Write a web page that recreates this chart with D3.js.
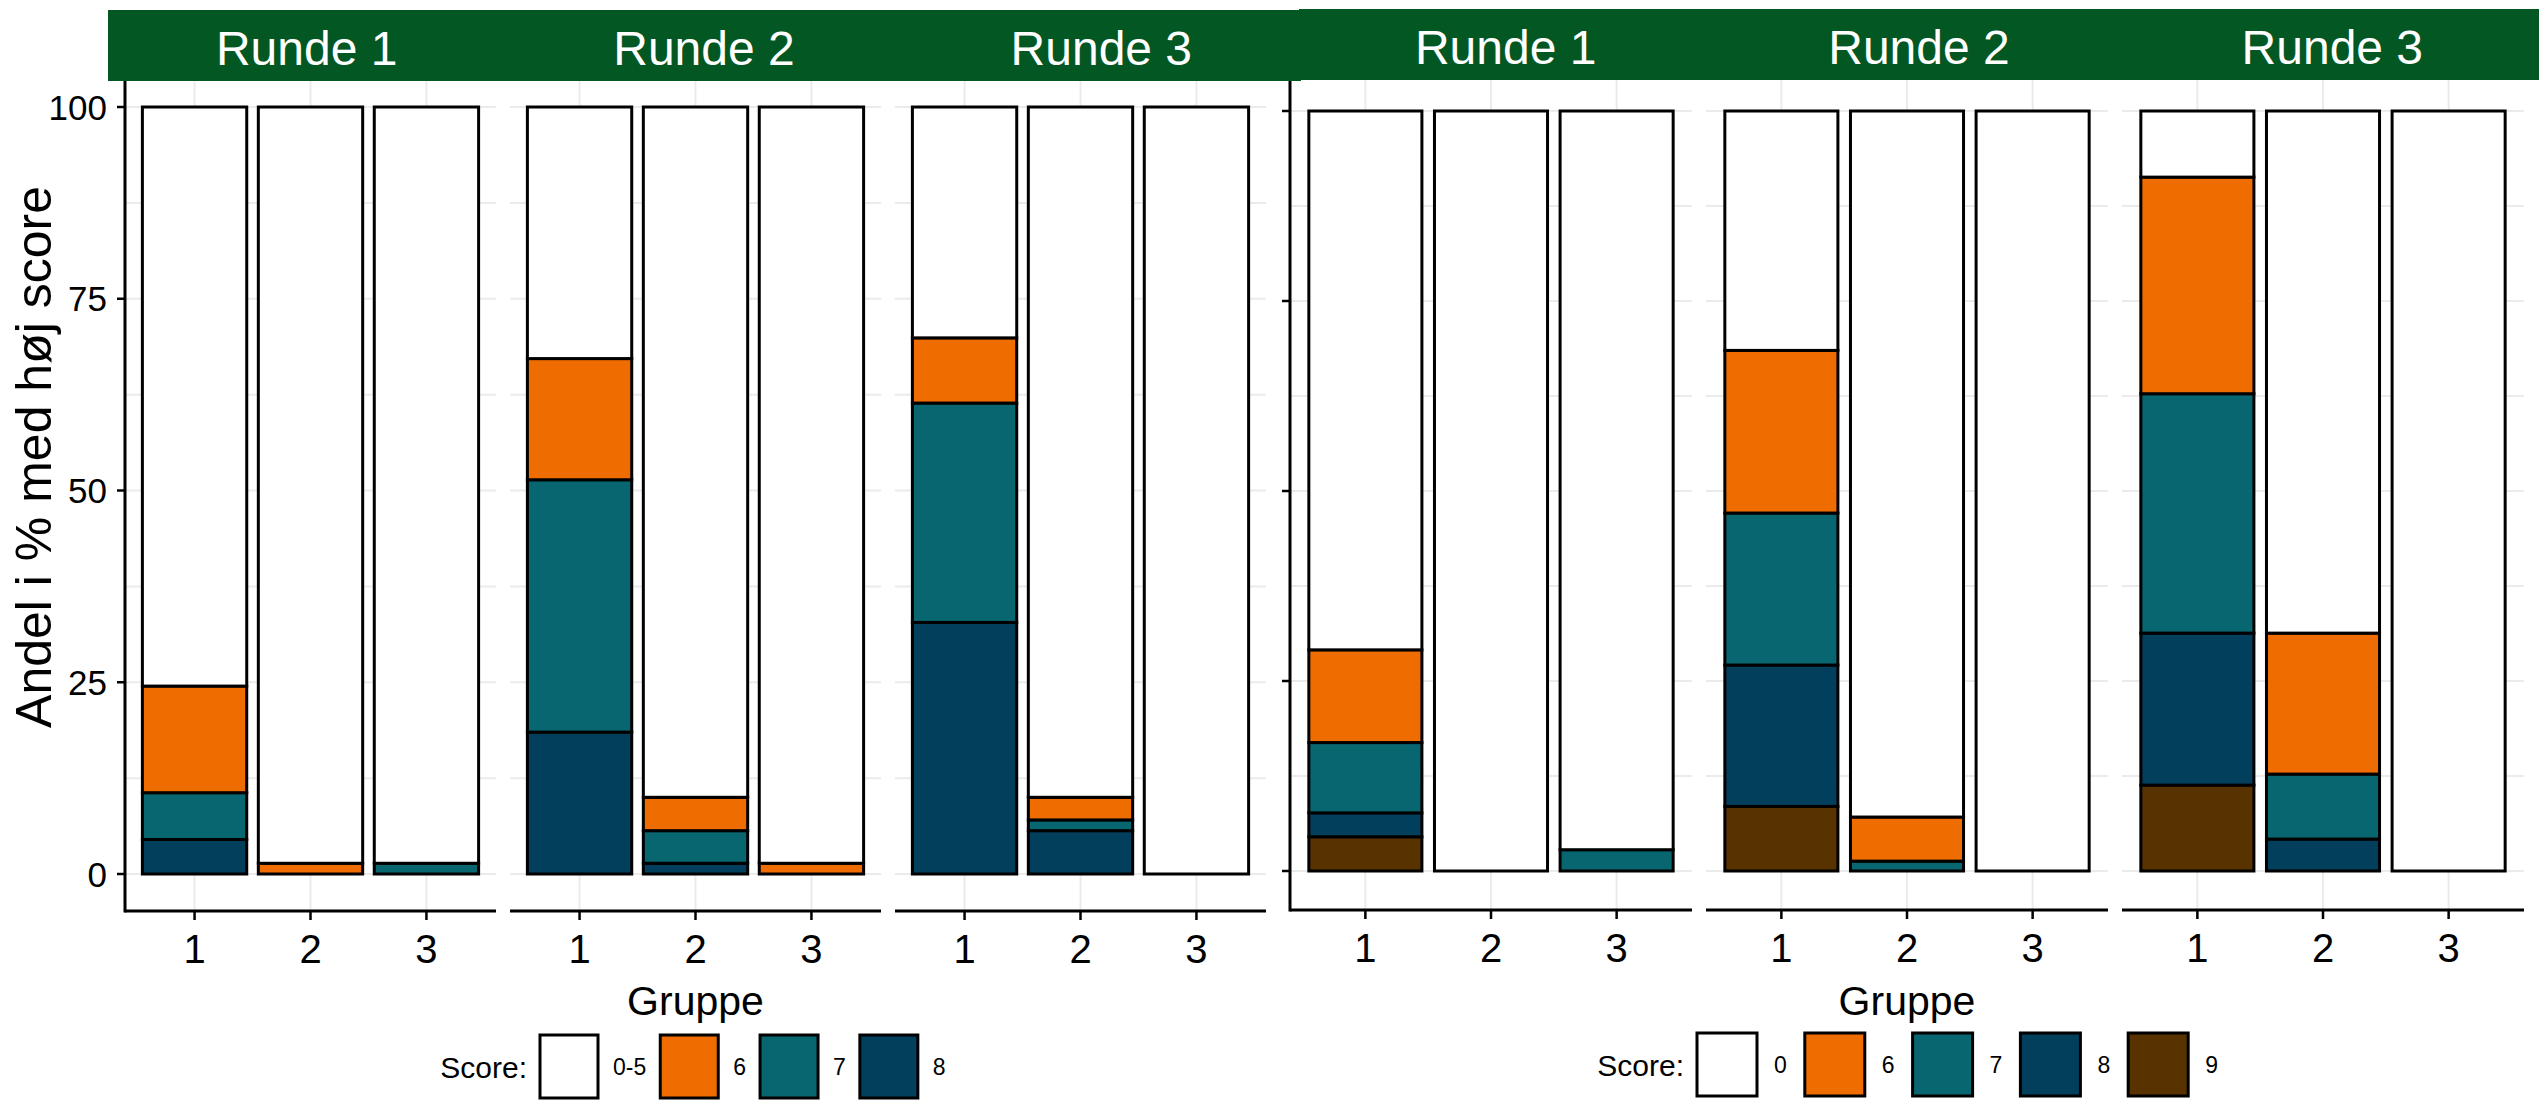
<!DOCTYPE html>
<html>
<head>
<meta charset="utf-8">
<style>
  body { margin: 0; background: #fff; }
  svg { display: block; font-family: "Liberation Sans", Arial, sans-serif; }
  .grid line { stroke: #ebebeb; stroke-width: 2; }
  .seg { stroke: #000; stroke-width: 3; }
  .axis-line { stroke: #000; stroke-width: 3; }
  .tick { stroke: #000; stroke-width: 2.5; }
</style>
<script src="https://cdn.jsdelivr.net/npm/d3@7"></script>
</head>
<body>
<svg id="chart" width="2539" height="1101"></svg>
<script>
var runder = ["Runde 1", "Runde 2", "Runde 3"];
var grupper = ["1", "2", "3"];
var yTicks = [0, 25, 50, 75, 100];
var yMinor = [12.5, 37.5, 62.5, 87.5];

// venstre figur, score 0-5 / 6 / 7 / 8
// rækkefølge: Runde 1 gr 1-3, Runde 2 gr 1-3, Runde 3 gr 1-3
var scoresA = ["0-5", "6", "7", "8"];
var a05 = [75.5, 98.6, 98.6, 32.8, 90.0, 98.6, 30.1, 90.0, 100];
var a6  = [13.9, 1.4, 0, 15.8, 4.35, 1.4, 8.5, 2.95, 0];
var a7  = [6.1, 0, 1.4, 32.9, 4.25, 0, 28.6, 1.4, 0];
var a8  = [4.5, 0, 0, 18.5, 1.4, 0, 32.8, 5.65, 0];

// hoejre figur, score 0 / 6 / 7 / 8 / 9
var scoresB = ["0", "6", "7", "8", "9"];
var b0 = [70.9, 100, 97.2, 31.5, 92.9, 100, 8.7, 68.7, 100];
var b6 = [12.2, 0, 0, 21.4, 5.8, 0, 28.5, 18.55, 0];
var b7 = [9.25, 0, 2.8, 20.0, 1.3, 0, 31.5, 8.55, 0];
var b8 = [3.15, 0, 0, 18.6, 0, 0, 20.0, 4.2, 0];
var b9 = [4.5, 0, 0, 8.5, 0, 0, 11.3, 0, 0];

var fills = {"0-5": "#ffffff", "0": "#ffffff", "6": "#ee6c00", "7": "#086670", "8": "#013f5d", "9": "#583300"};
var stripColor = "#035723";

function makeRows(scores, series) {
  var rows = [];
  runder.forEach(function(r, i) {
    grupper.forEach(function(g, j) {
      var row = {runde: r, gruppe: g};
      scores.forEach(function(s, k) { row[s] = series[k][i * 3 + j]; });
      rows.push(row);
    });
  });
  return rows;
}

var svg = d3.select("#chart");

function drawFigure(cfg) {
  var root = svg.append("g");
  var rows = makeRows(cfg.scores, cfg.series);

  var panel = d3.scaleBand().domain(runder).range(cfg.panelX)
    .paddingInner(cfg.gap / ((cfg.panelX[1] - cfg.panelX[0] + cfg.gap) / 3));
  var x = d3.scaleBand().domain(grupper).range([0, panel.bandwidth()])
    .paddingInner(0.1).paddingOuter(0.15);
  var y = d3.scaleLinear().domain([0, 100]).range([cfg.y0, cfg.y100]);

  // stak: hoejeste score nederst
  var keys = cfg.scores.slice().reverse();
  var stacked = d3.stack().keys(keys)(rows);

  // strips
  var strip = d3.scaleBand().domain(runder).range(cfg.stripX);
  root.selectAll(".strip").data(runder).enter().append("rect")
    .attr("x", function(d) { return strip(d); })
    .attr("y", cfg.stripY[0])
    .attr("width", strip.bandwidth() + 1)
    .attr("height", cfg.stripY[1] - cfg.stripY[0])
    .attr("fill", stripColor);
  root.selectAll(".strip-text").data(runder).enter().append("text")
    .attr("x", function(d) { return strip(d) + strip.bandwidth() / 2; })
    .attr("y", cfg.stripY[0] + 55)
    .attr("text-anchor", "middle")
    .attr("fill", "#fff")
    .attr("font-size", 48)
    .text(function(d) { return d; });

  runder.forEach(function(r) {
    var g = root.append("g").attr("transform", "translate(" + panel(r) + ",0)");
    var w = panel.bandwidth();

    var grid = g.append("g").attr("class", "grid");
    grid.selectAll(".hy").data(yTicks.concat(yMinor)).enter().append("line")
      .attr("x1", 0).attr("x2", w)
      .attr("y1", function(d) { return y(d); }).attr("y2", function(d) { return y(d); });
    grid.selectAll(".vx").data(grupper).enter().append("line")
      .attr("x1", function(d) { return x(d) + x.bandwidth() / 2; })
      .attr("x2", function(d) { return x(d) + x.bandwidth() / 2; })
      .attr("y1", cfg.panelTop).attr("y2", cfg.axisY);

    stacked.forEach(function(layer) {
      g.selectAll(null)
        .data(layer.filter(function(d) { return d.data.runde === r && d[1] - d[0] > 0; }))
        .enter().append("rect")
        .attr("class", "seg")
        .attr("x", function(d) { return x(d.data.gruppe); })
        .attr("width", x.bandwidth())
        .attr("y", function(d) { return y(d[1]); })
        .attr("height", function(d) { return y(d[0]) - y(d[1]); })
        .attr("fill", fills[layer.key]);
    });

    // x-akse
    g.append("line").attr("class", "axis-line")
      .attr("x1", 0).attr("x2", w).attr("y1", cfg.axisY).attr("y2", cfg.axisY);
    g.selectAll(".xt").data(grupper).enter().append("line").attr("class", "tick")
      .attr("x1", function(d) { return x(d) + x.bandwidth() / 2; })
      .attr("x2", function(d) { return x(d) + x.bandwidth() / 2; })
      .attr("y1", cfg.axisY).attr("y2", cfg.axisY + 9);
    g.selectAll(".xl").data(grupper).enter().append("text")
      .attr("x", function(d) { return x(d) + x.bandwidth() / 2; })
      .attr("y", cfg.axisY + 52)
      .attr("text-anchor", "middle")
      .attr("font-size", 40)
      .text(function(d) { return d; });
  });

  // y-akse
  var x0 = cfg.panelX[0];
  root.append("line").attr("class", "axis-line")
    .attr("x1", x0).attr("x2", x0).attr("y1", cfg.panelTop).attr("y2", cfg.axisY + 1.5);
  root.selectAll(".yt").data(yTicks).enter().append("line").attr("class", "tick")
    .attr("x1", x0 - 8).attr("x2", x0)
    .attr("y1", function(d) { return y(d); }).attr("y2", function(d) { return y(d); });
  if (cfg.yLabels) {
    root.selectAll(".yl").data(yTicks).enter().append("text")
      .attr("x", x0 - 18)
      .attr("y", function(d) { return y(d); })
      .attr("dy", "0.36em")
      .attr("text-anchor", "end")
      .attr("font-size", 35)
      .text(function(d) { return d; });
    root.append("text")
      .attr("transform", "translate(51,457) rotate(-90)")
      .attr("text-anchor", "middle")
      .attr("font-size", 50)
      .text("Andel i % med høj score");
  }

  root.append("text")
    .attr("x", (cfg.panelX[0] + cfg.panelX[1]) / 2)
    .attr("y", 1015)
    .attr("text-anchor", "middle")
    .attr("font-size", 41)
    .text("Gruppe");

  // legende
  var L = cfg.legend;
  root.append("text")
    .attr("x", L.x - 13).attr("y", L.y + L.h / 2 + 11)
    .attr("text-anchor", "end").attr("font-size", 30)
    .text("Score:");
  var cx = L.x;
  cfg.scores.forEach(function(s) {
    root.append("rect").attr("class", "seg")
      .attr("x", cx).attr("y", L.y).attr("width", L.w).attr("height", L.h)
      .attr("fill", fills[s]);
    var t = root.append("text")
      .attr("x", cx + L.w + L.gap1).attr("y", L.y + L.h / 2 + 8)
      .attr("font-size", 23)
      .text(s);
    cx += L.w + L.gap1 + t.node().getComputedTextLength() + L.gap2;
  });
}

drawFigure({
  scores: scoresB, series: [b0, b6, b7, b8, b9],
  stripX: [1299, 2539], stripY: [9, 80],
  panelX: [1290, 2524], gap: 14,
  y0: 871, y100: 111, panelTop: 80, axisY: 910,
  yLabels: false,
  legend: {x: 1697, y: 1033, w: 60, h: 63, gap1: 17, gap2: 18}
});

drawFigure({
  scores: scoresA, series: [a05, a6, a7, a8],
  stripX: [108, 1300], stripY: [10, 81],
  panelX: [125, 1266], gap: 14,
  y0: 874, y100: 107, panelTop: 81, axisY: 911,
  yLabels: true,
  legend: {x: 540, y: 1035, w: 58, h: 63, gap1: 15, gap2: 14}
});
</script>
</body>
</html>
